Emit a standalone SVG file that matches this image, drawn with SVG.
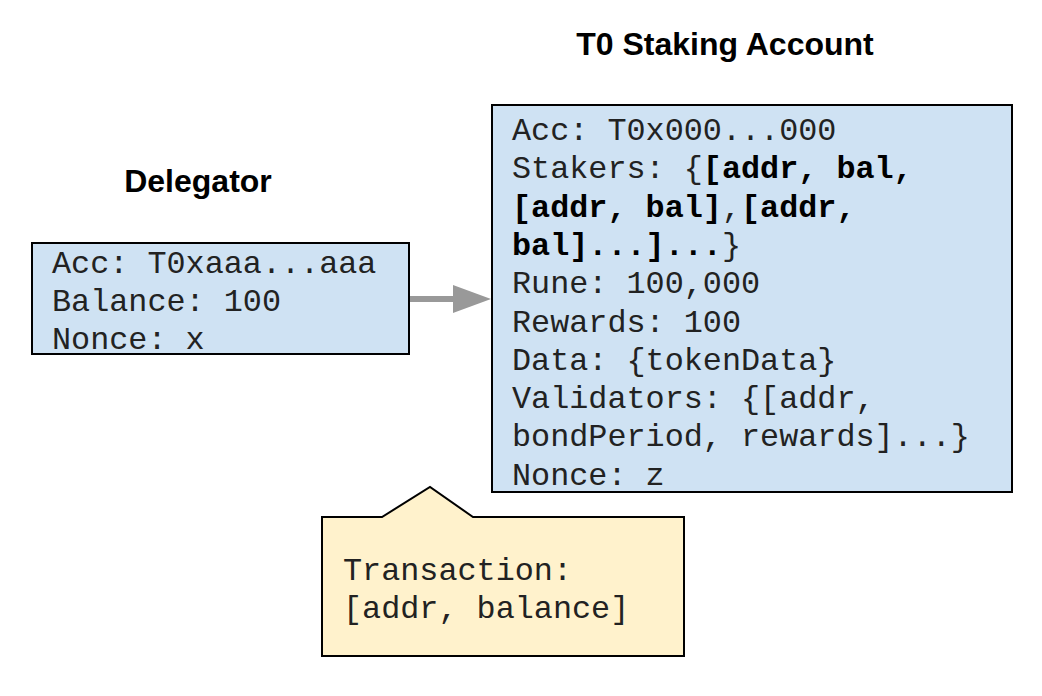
<svg xmlns="http://www.w3.org/2000/svg" width="1042" height="696" viewBox="0 0 1042 696">
<style>
.title{font-family:"Liberation Sans",Arial,sans-serif;font-weight:bold;font-size:32px;fill:#000;text-anchor:middle}
.mono{font-family:"Liberation Mono","Courier New",monospace;font-size:31.8px;fill:#222}
.b{font-weight:bold;fill:#000}
.box{fill:#cfe2f3;stroke:#000;stroke-width:2}
.note{fill:#fff2cc;stroke:#000;stroke-width:2}
</style>
<rect width="1042" height="696" fill="#fff"/>
<g id="delegator">
<text class="title" x="198" y="192">Delegator</text>
<rect class="box" x="32" y="243" width="377" height="111"/>
<text class="mono" x="52" y="273">Acc: T0xaaa...aaa</text>
<text class="mono" x="52" y="311">Balance: 100</text>
<text class="mono" x="52" y="349">Nonce: x</text>
</g>
<g id="staking-account">
<text class="title" x="725" y="55">T0 Staking Account</text>
<rect class="box" x="492" y="105" width="520" height="387"/>
<text class="mono" x="512" y="140">Acc: T0x000...000</text>
<text class="mono" x="512" y="178.3">Stakers: {<tspan class="b">[addr, bal,</tspan></text>
<text class="mono" x="512" y="216.6"><tspan class="b">[addr, bal]</tspan>,<tspan class="b">[addr,</tspan></text>
<text class="mono" x="512" y="254.9"><tspan class="b">bal]...]...</tspan>}</text>
<text class="mono" x="512" y="293.2">Rune: 100,000</text>
<text class="mono" x="512" y="331.5">Rewards: 100</text>
<text class="mono" x="512" y="369.8">Data: {tokenData}</text>
<text class="mono" x="512" y="408.1">Validators: {[addr,</text>
<text class="mono" x="512" y="446.4">bondPeriod, rewards]...}</text>
<text class="mono" x="512" y="484.7">Nonce: z</text>
</g>
<g id="transaction">
<path class="note" d="M322,517 H382 L430,487 L473,517 H684 V656 H322 Z"/>
<text class="mono" x="343" y="580">Transaction:</text>
<text class="mono" x="343" y="618">[addr, balance]</text>
</g>
<g id="connectors">
<line x1="410" y1="299" x2="455" y2="299" stroke="#999" stroke-width="6"/>
<polygon points="453,285 491,299 453,313" fill="#999"/>
</g>
</svg>
